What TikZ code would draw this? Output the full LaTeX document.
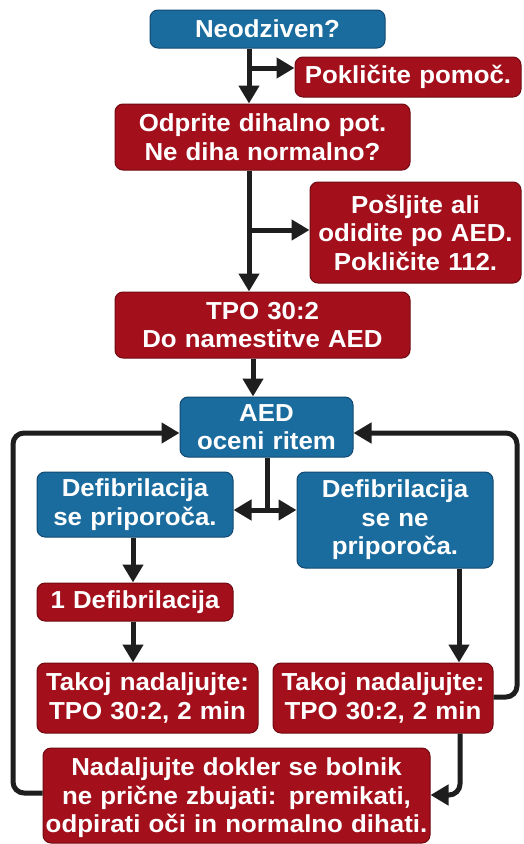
\documentclass[tikz,border=0pt]{standalone}
\usepackage{fontspec}
\setmainfont{Liberation Sans}[FakeStretch=1.05]
\usetikzlibrary{arrows.meta}
\definecolor{boxblue}{RGB}{27,108,158}
\definecolor{boxblueedge}{RGB}{16,72,112}
\definecolor{boxred}{RGB}{163,16,28}
\definecolor{boxrededge}{RGB}{112,10,18}
\definecolor{linec}{RGB}{30,30,30}
\tikzset{
  box/.style 2 args={rounded corners=8pt, inner sep=0pt, align=center,
    text=white, line width=1pt,
    font=\fontsize{24.6}{28.5}\selectfont\bfseries,
    minimum width=#1pt, text width=#1pt, minimum height=#2pt},
  bluebox/.style={fill=boxblue, draw=boxblueedge},
  redbox/.style={fill=boxred, draw=boxrededge},
  conn/.style={draw=linec, line width=5pt, line join=round},
  arr/.style={conn, -{Triangle[length=18pt,width=20pt]}},
  loop/.style={arr, rounded corners=11pt}
}
\begin{document}
\begin{tikzpicture}[x=1pt,y=-1pt]
\useasboundingbox[fill=white] (0,0) rectangle (523,844);
% nodes
\node[box={235}{38}, bluebox] (n1) at (267.5,29) {Neodziven?};
\node[box={226}{40}, redbox] (n2) at (408,77) {Pokličite pomoč.};
\node[box={295}{66}, redbox] (n3) at (262.5,137) {Odprite dihalno pot.\\Ne diha normalno?};
\node[box={211}{101}, redbox] (n4) at (415.5,232.5) {Pošljite ali\\odidite po AED.\\Pokličite 112.};
\node[box={295}{66}, redbox] (n5) at (262.5,325) {TPO 30:2\\Do namestitve AED};
\node[box={173}{60}, bluebox] (n6) at (266.5,427) {AED\\oceni ritem};
\node[box={196}{65}, bluebox] (n7) at (135,504.5) {Defibrilacija\\se priporoča.};
\node[box={196}{96}, bluebox] (n8) at (395,520) {Defibrilacija\\se ne\\priporoča.};
\node[box={196}{38}, redbox] (n9) at (135,602) {1 Defibrilacija};
\node[box={221}{70}, redbox] (n10) at (147.5,698) {Takoj nadaljujte:\\TPO 30:2, 2 min};
\node[box={220}{70}, redbox] (n11) at (383,698) {Takoj nadaljujte:\\TPO 30:2, 2 min};
\node[box={387}{95}, redbox] (n12) at (236.5,795.5) {\rule{0pt}{23pt}Nadaljujte dokler se bolnik\\ne prične zbujati: premikati,\\odpirati oči in normalno dihati.};
% helper coordinates
\coordinate (vx) at (249,0);
\coordinate (b1) at (249,68);
\coordinate (b2) at (249,230);
\coordinate (vx2) at (253,0);
\coordinate (sp) at (267,510);
\coordinate (lx) at (133,0);
\coordinate (rx) at (459,0);
\coordinate (D1) at (460,795);
\coordinate (L1) at (13,793);
\coordinate (L2) at (13,433);
\coordinate (R1) at (517,697);
\coordinate (R2) at (517,433);
% connectors
\draw[arr] (vx |- n1.south) -- (vx |- n3.north);
\draw[arr] (b1) -- (b1 -| n2.west);
\draw[arr] (vx |- n3.south) -- (vx |- n5.north);
\draw[arr] (b2) -- (b2 -| n4.west);
\draw[arr] (vx2 |- n5.south) -- (vx2 |- n6.north);
\draw[conn] (sp |- n6.south) -- (sp);
\draw[arr] (sp) -- (sp -| n7.east);
\draw[arr] (sp) -- (sp -| n8.west);
\draw[arr] (lx |- n7.south) -- (lx |- n9.north);
\draw[arr] (lx |- n9.south) -- (lx |- n10.north);
\draw[arr] (rx |- n8.south) -- (rx |- n11.north);
\draw[loop] (D1 |- n11.south) -- (D1) -- (D1 -| n12.east);
\draw[loop] (L1 -| n12.west) -- (L1) -- (L2) -- (L2 -| n6.west);
\draw[loop] (R1 -| n11.east) -- (R1) -- (R2) -- (R2 -| n6.east);
\end{tikzpicture}
\end{document}
